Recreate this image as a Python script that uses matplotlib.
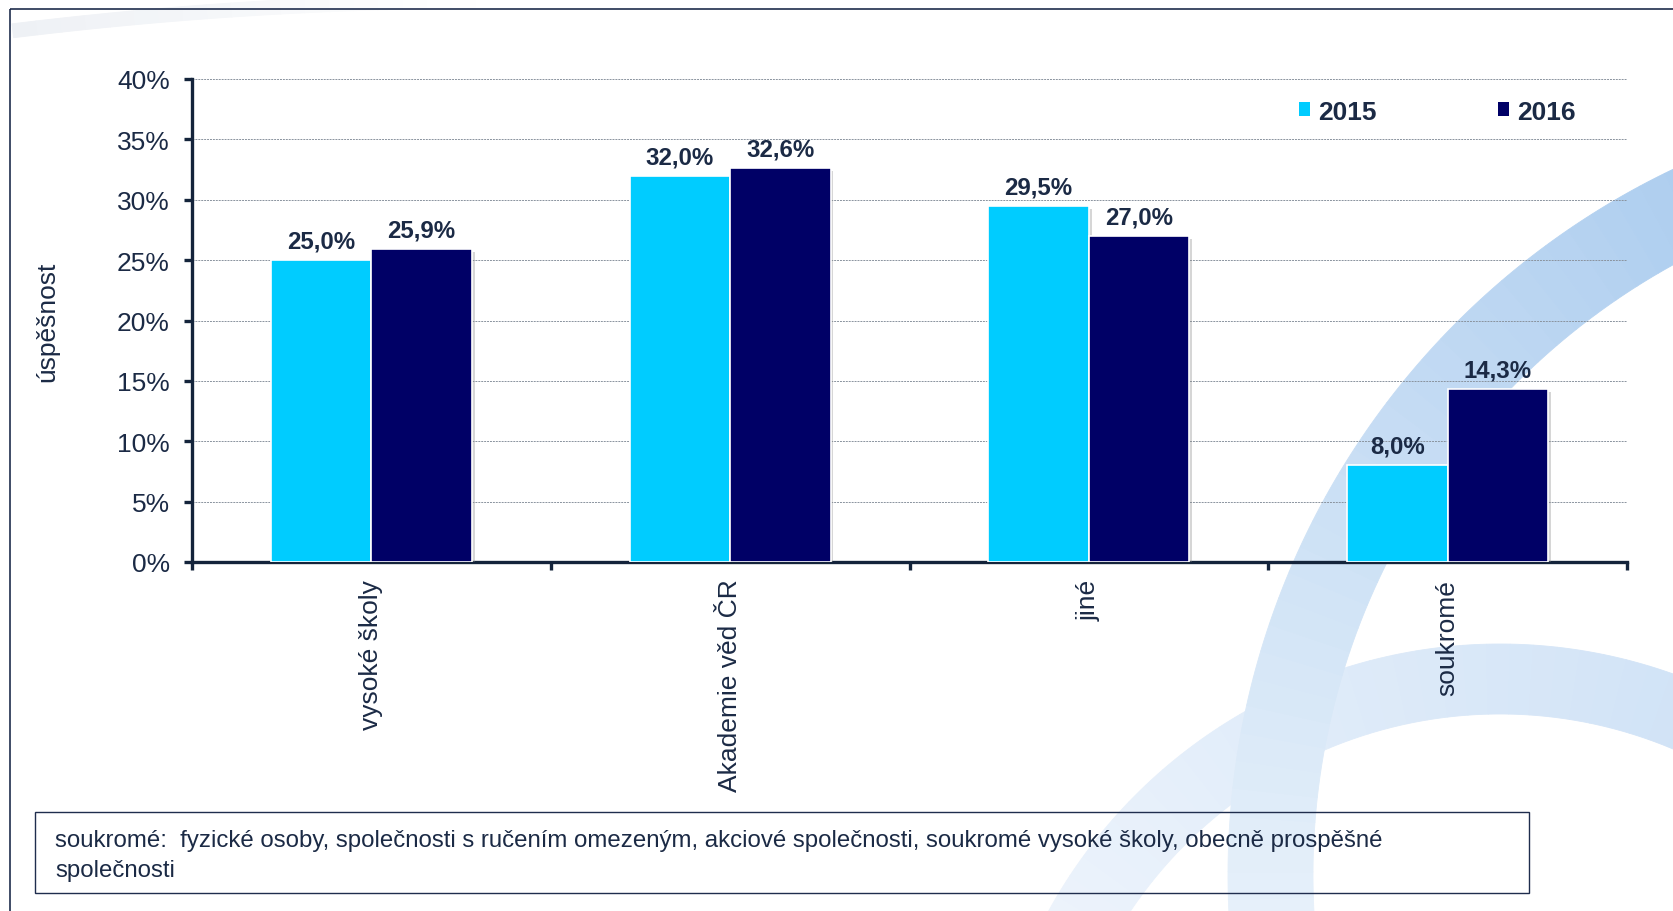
import numpy as np
import matplotlib
matplotlib.use("Agg")
import matplotlib.pyplot as plt
import matplotlib.patheffects as pe
from matplotlib.patches import Rectangle, Wedge
from matplotlib.colors import to_rgb

# data
categories = ["vysoké školy", "Akademie věd ČR", "jiné", "soukromé"]
years = ["2015", "2016"]
values_2015 = [25.0, 32.0, 29.5, 8.0]
values_2016 = [25.9, 32.6, 27.0, 14.3]
y_ticks = [0, 5, 10, 15, 20, 25, 30, 35, 40]
note_lines = [
    "soukromé:  fyzické osoby, společnosti s ručením omezeným, akciové společnosti, soukromé vysoké školy, obecně prospěšné",
    "společnosti",
]

C_LIGHT = "#00CCFF"
C_DARK = "#000066"
C_TEXT = "#1b2a45"

plt.rcParams["font.family"] = ["Liberation Sans", "DejaVu Sans"]

W, H = 1673, 912
fig = plt.figure(figsize=(W / 100, H / 100), dpi=100)
fig.patch.set_facecolor("white")

# background layer in pixel coordinates (watermark, frame, note box)
bg = fig.add_axes([0, 0, 1, 1], zorder=-5)
bg.set_xlim(0, W)
bg.set_ylim(H, 0)
bg.axis("off")


def band(cx, cy, r_out, width, a0, a1, c0, c1, n=40):
    c0, c1 = np.array(to_rgb(c0)), np.array(to_rgb(c1))
    angs = np.linspace(a0, a1, n + 1)
    for i in range(n):
        t = i / (n - 1)
        col = c0 * (1 - t) + c1 * t
        bg.add_patch(Wedge((cx, cy), r_out, angs[i], angs[i + 1], width=width,
                           facecolor=col, edgecolor=col, lw=0.6))


# watermark rings
band(1500, 1160, 515, 70, 195, 300, "#f0f5fc", "#cfe2f6")
band(2010, 876, 782, 85, 170, 252, "#ebf3fb", "#a9cbee")
# faint swoosh top left
band(500, 4000, 4005, 14, 263, 270, "#eef1f5", "#ffffff", n=20)

# outer frame
bg.add_patch(Rectangle((10, 10), W + 20, H + 20, fill=False,
                       edgecolor="#1f2d4d", lw=1.2))
# note box
bg.add_patch(Rectangle((35, 813), 1494, 81, fill=False,
                       edgecolor="#1f2d4d", lw=1.0))
bg.text(55, 847, note_lines[0], fontsize=17.3, color=C_TEXT, va="baseline")
bg.text(55, 877, note_lines[1], fontsize=17.3, color=C_TEXT, va="baseline")

# main chart
ax = fig.add_axes([192 / W, 1 - 563 / H, (1627 - 192) / W, (563 - 80) / H])
ax.set_facecolor("none")

x = np.arange(len(categories))
bw = 0.28
shadow = [pe.SimplePatchShadow(offset=(2, -2), shadow_rgbFace="0.55", alpha=0.35),
          pe.Normal()]
b1 = ax.bar(x - bw / 2, values_2015, bw, color=C_LIGHT, edgecolor="white",
            lw=1.2, label=years[0], zorder=3)
b2 = ax.bar(x + bw / 2, values_2016, bw, color=C_DARK, edgecolor="white",
            lw=1.2, label=years[1], zorder=3)
for bars in (b1, b2):
    for p in bars:
        p.set_path_effects(shadow)

for bars, vals in ((b1, values_2015), (b2, values_2016)):
    for p, v in zip(bars, vals):
        ax.annotate(f"{v:.1f}%".replace(".", ","),
                    (p.get_x() + p.get_width() / 2, v),
                    xytext=(0, 9), textcoords="offset points",
                    ha="center", va="baseline", fontsize=17.3,
                    fontweight="bold", color=C_TEXT, zorder=4)

ax.set_xlim(-0.5, len(categories) - 0.5)
ax.set_ylim(0, 40)
ax.set_yticks(y_ticks)
ax.set_yticklabels([f"{t}%" for t in y_ticks])
ax.set_xticks(np.arange(len(categories) + 1) - 0.5)
ax.set_xticklabels([])
ax.set_xticks(x, minor=True)
ax.set_xticklabels(categories, minor=True, rotation=90, va="top", ha="center")

ax.grid(axis="y", color="#8a939e", lw=0.7, linestyle=(0, (2, 1)), zorder=0)
ax.set_axisbelow(True)

for s in ("top", "right"):
    ax.spines[s].set_visible(False)
for s in ("left", "bottom"):
    ax.spines[s].set_color("#14243b")
    ax.spines[s].set_linewidth(2.4)

ax.tick_params(axis="y", which="major", length=6, width=2.4, color="#14243b",
               pad=10, labelsize=19, labelcolor=C_TEXT)
ax.tick_params(axis="x", which="major", length=6, width=2.4, color="#14243b")
ax.tick_params(axis="x", which="minor", length=0, pad=12, labelsize=19,
               labelcolor=C_TEXT)

fig.text(47 / W, 1 - 322 / H, "úspěšnost", rotation=90, fontsize=19,
         color=C_TEXT, ha="center", va="center")

leg = ax.legend(handles=[b1, b2], loc="center left",
                bbox_to_anchor=(1299 / W, 1 - 112.5 / H),
                bbox_transform=fig.transFigure,
                ncol=2, frameon=False, borderpad=0, borderaxespad=0,
                handlelength=0.42, handleheight=0.42, handletextpad=0.3,
                columnspacing=4.6, prop={"size": 19, "weight": "bold"},
                labelcolor=C_TEXT)
for h in leg.legend_handles:
    h.set_edgecolor("none")
    h.set_path_effects([])

fig.savefig("out.png", dpi=100)
